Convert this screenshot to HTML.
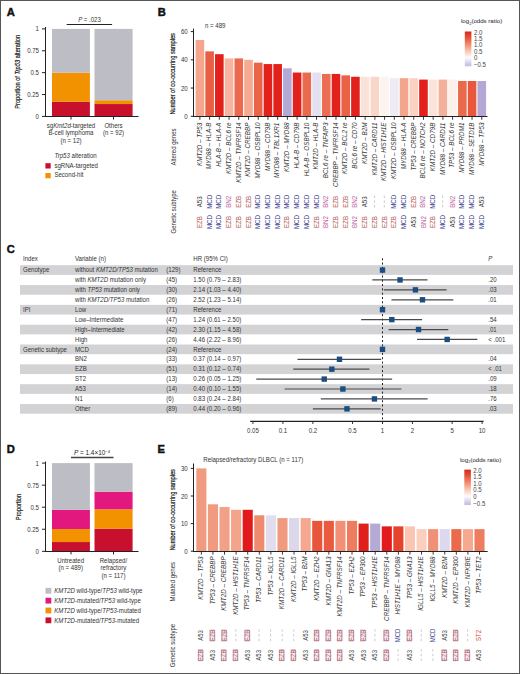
<!DOCTYPE html>
<html><head><meta charset="utf-8"><style>
html,body{margin:0;padding:0;background:#fff;}
svg{display:block;font-family:"Liberation Sans", sans-serif;}
</style></head><body>
<svg width="520" height="674" viewBox="0 0 520 674">
<rect width="520" height="674" fill="#fff"/>
<text x="6.70" y="15.90" font-size="11.2" fill="#111" font-weight="bold" stroke="#111" stroke-width="0.45">A</text>
<line x1="66.70" y1="24.50" x2="112.10" y2="24.50" stroke="#222" stroke-width="1"/>
<text x="89.50" y="21.50" font-size="6.4" fill="#333" text-anchor="middle" textLength="22.71" lengthAdjust="spacingAndGlyphs"><tspan font-style="italic">P</tspan> = .023</text>
<rect x="52.00" y="101.82" width="37.90" height="14.58" fill="#c8102e"/>
<rect x="52.00" y="72.65" width="37.90" height="29.17" fill="#f39200"/>
<rect x="52.00" y="28.90" width="37.90" height="43.75" fill="#bdbdc5"/>
<rect x="94.50" y="104.04" width="38.10" height="12.36" fill="#c8102e"/>
<rect x="94.50" y="100.23" width="38.10" height="3.80" fill="#f39200"/>
<rect x="94.50" y="28.90" width="38.10" height="71.33" fill="#bdbdc5"/>
<line x1="45.50" y1="27.00" x2="45.50" y2="117.00" stroke="#222" stroke-width="1"/>
<line x1="45.00" y1="116.50" x2="138.50" y2="116.50" stroke="#222" stroke-width="1"/>
<line x1="42.00" y1="28.90" x2="45.50" y2="28.90" stroke="#222" stroke-width="1"/>
<text x="39.00" y="31.40" font-size="6.4" fill="#333" text-anchor="end" textLength="3.38" lengthAdjust="spacingAndGlyphs">1</text>
<line x1="42.00" y1="50.78" x2="45.50" y2="50.78" stroke="#222" stroke-width="1"/>
<text x="39.00" y="53.28" font-size="6.4" fill="#333" text-anchor="end" textLength="11.83" lengthAdjust="spacingAndGlyphs">0.75</text>
<line x1="42.00" y1="72.65" x2="45.50" y2="72.65" stroke="#222" stroke-width="1"/>
<text x="39.00" y="75.15" font-size="6.4" fill="#333" text-anchor="end" textLength="8.45" lengthAdjust="spacingAndGlyphs">0.5</text>
<line x1="42.00" y1="94.53" x2="45.50" y2="94.53" stroke="#222" stroke-width="1"/>
<text x="39.00" y="97.03" font-size="6.4" fill="#333" text-anchor="end" textLength="11.83" lengthAdjust="spacingAndGlyphs">0.25</text>
<line x1="42.00" y1="116.40" x2="45.50" y2="116.40" stroke="#222" stroke-width="1"/>
<text x="39.00" y="118.90" font-size="6.4" fill="#333" text-anchor="end" textLength="3.38" lengthAdjust="spacingAndGlyphs">0</text>
<line x1="71.00" y1="116.50" x2="71.00" y2="119.50" stroke="#222" stroke-width="1"/>
<line x1="113.50" y1="116.50" x2="113.50" y2="119.50" stroke="#222" stroke-width="1"/>
<text x="20.50" y="71.80" font-size="6.7" fill="#222" text-anchor="middle" textLength="74" lengthAdjust="spacingAndGlyphs" transform="rotate(-90 20.50 71.80)" stroke="#222" stroke-width="0.2">Proportion of <tspan font-style="italic">Trp53</tspan> alteration</text>
<text x="71.00" y="128.00" font-size="6.4" fill="#333" text-anchor="middle" textLength="48.33" lengthAdjust="spacingAndGlyphs">sg<tspan font-style="italic">Kmt2d</tspan>-targeted</text>
<text x="71.00" y="135.30" font-size="6.4" fill="#333" text-anchor="middle" textLength="44.94" lengthAdjust="spacingAndGlyphs">B-cell lymphoma</text>
<text x="71.00" y="142.60" font-size="6.4" fill="#333" text-anchor="middle" textLength="21.12" lengthAdjust="spacingAndGlyphs">(n = 12)</text>
<text x="113.50" y="128.00" font-size="6.4" fill="#333" text-anchor="middle" textLength="18.25" lengthAdjust="spacingAndGlyphs">Others</text>
<text x="113.50" y="135.30" font-size="6.4" fill="#333" text-anchor="middle" textLength="21.12" lengthAdjust="spacingAndGlyphs">(n = 92)</text>
<text x="54.40" y="158.00" font-size="6.4" fill="#333" textLength="42.36" lengthAdjust="spacingAndGlyphs"><tspan font-style="italic">Trp53</tspan> alteration</text>
<rect x="45.40" y="163.20" width="5.30" height="5.30" fill="#c8102e"/>
<text x="54.40" y="167.60" font-size="6.4" fill="#333" textLength="43.59" lengthAdjust="spacingAndGlyphs">sgRNA-targeted</text>
<rect x="45.40" y="173.00" width="5.30" height="5.30" fill="#f39200"/>
<text x="54.40" y="177.30" font-size="6.4" fill="#333" textLength="29.07" lengthAdjust="spacingAndGlyphs">Second-hit</text>
<text x="157.80" y="16.20" font-size="11.2" fill="#111" font-weight="bold" stroke="#111" stroke-width="0.45">B</text>
<text x="205.00" y="27.50" font-size="6.4" fill="#333" textLength="20.45" lengthAdjust="spacingAndGlyphs">n = 489</text>
<rect x="195.60" y="40.05" width="8.60" height="76.35" fill="#f4a58b"/>
<rect x="205.32" y="51.35" width="8.60" height="65.05" fill="#e95f45"/>
<rect x="215.04" y="54.17" width="8.60" height="62.23" fill="#e3211c"/>
<rect x="224.76" y="58.41" width="8.60" height="57.99" fill="#f7b49f"/>
<rect x="234.48" y="58.41" width="8.60" height="57.99" fill="#eb6a4f"/>
<rect x="244.20" y="59.82" width="8.60" height="56.58" fill="#f6aa91"/>
<rect x="253.92" y="62.64" width="8.60" height="53.76" fill="#ea6448"/>
<rect x="263.64" y="64.06" width="8.60" height="52.34" fill="#e3211c"/>
<rect x="273.36" y="64.06" width="8.60" height="52.34" fill="#e3211c"/>
<rect x="283.08" y="68.29" width="8.60" height="48.11" fill="#b3a8d6"/>
<rect x="292.80" y="72.53" width="8.60" height="43.87" fill="#e3211c"/>
<rect x="302.52" y="72.53" width="8.60" height="43.87" fill="#ea6a4e"/>
<rect x="312.24" y="72.53" width="8.60" height="43.87" fill="#e3e0f1"/>
<rect x="321.96" y="73.94" width="8.60" height="42.46" fill="#eb6d52"/>
<rect x="331.68" y="73.94" width="8.60" height="42.46" fill="#e3211c"/>
<rect x="341.40" y="75.35" width="8.60" height="41.05" fill="#ea6246"/>
<rect x="351.12" y="76.76" width="8.60" height="39.64" fill="#e3211c"/>
<rect x="360.84" y="76.76" width="8.60" height="39.64" fill="#fbe2d8"/>
<rect x="370.56" y="76.76" width="8.60" height="39.64" fill="#f9d6c8"/>
<rect x="380.28" y="76.76" width="8.60" height="39.64" fill="#fdf4f0"/>
<rect x="390.00" y="78.18" width="8.60" height="38.22" fill="#ecebf6"/>
<rect x="399.72" y="78.18" width="8.60" height="38.22" fill="#f4a68c"/>
<rect x="409.44" y="78.18" width="8.60" height="38.22" fill="#fad2c2"/>
<rect x="419.16" y="79.59" width="8.60" height="36.81" fill="#e3211c"/>
<rect x="428.88" y="79.59" width="8.60" height="36.81" fill="#fbe3da"/>
<rect x="438.60" y="79.59" width="8.60" height="36.81" fill="#f3b19b"/>
<rect x="448.32" y="79.59" width="8.60" height="36.81" fill="#fdf0ea"/>
<rect x="458.04" y="81.00" width="8.60" height="35.40" fill="#ea6a4c"/>
<rect x="467.76" y="81.00" width="8.60" height="35.40" fill="#e9573c"/>
<rect x="477.48" y="81.00" width="8.60" height="35.40" fill="#b4a7d5"/>
<line x1="193.50" y1="28.60" x2="193.50" y2="117.00" stroke="#222" stroke-width="1"/>
<line x1="193.00" y1="116.50" x2="487.50" y2="116.50" stroke="#222" stroke-width="1"/>
<line x1="190.80" y1="116.30" x2="193.50" y2="116.30" stroke="#222" stroke-width="1"/>
<text x="187.70" y="118.80" font-size="6.4" fill="#333" text-anchor="end" textLength="3.38" lengthAdjust="spacingAndGlyphs">0</text>
<line x1="190.80" y1="88.06" x2="193.50" y2="88.06" stroke="#222" stroke-width="1"/>
<text x="187.70" y="90.56" font-size="6.4" fill="#333" text-anchor="end" textLength="6.76" lengthAdjust="spacingAndGlyphs">20</text>
<line x1="190.80" y1="59.82" x2="193.50" y2="59.82" stroke="#222" stroke-width="1"/>
<text x="187.70" y="62.32" font-size="6.4" fill="#333" text-anchor="end" textLength="6.76" lengthAdjust="spacingAndGlyphs">40</text>
<line x1="190.80" y1="31.58" x2="193.50" y2="31.58" stroke="#222" stroke-width="1"/>
<text x="187.70" y="34.08" font-size="6.4" fill="#333" text-anchor="end" textLength="6.76" lengthAdjust="spacingAndGlyphs">60</text>
<line x1="199.90" y1="116.40" x2="199.90" y2="119.80" stroke="#222" stroke-width="0.9"/>
<text x="201.67" y="122.60" font-size="6.3" fill="#333" text-anchor="end" font-style="italic" transform="rotate(-90 201.67 122.60)">KMT2D – TP53</text>
<text x="201.94" y="201.80" font-size="6.5" fill="#3a3a3a" text-anchor="middle" textLength="10.99" lengthAdjust="spacingAndGlyphs" transform="rotate(-90 201.94 201.80)">A53</text>
<text x="201.94" y="222.00" font-size="6.5" fill="#b0504a" text-anchor="middle" textLength="12.01" lengthAdjust="spacingAndGlyphs" transform="rotate(-90 201.94 222.00)">EZB</text>
<line x1="209.62" y1="116.40" x2="209.62" y2="119.80" stroke="#222" stroke-width="0.9"/>
<text x="211.39" y="122.60" font-size="6.3" fill="#333" text-anchor="end" font-style="italic" transform="rotate(-90 211.39 122.60)">MYD88 – HLA-B</text>
<text x="211.66" y="201.80" font-size="6.5" fill="#40408c" text-anchor="middle" textLength="14.06" lengthAdjust="spacingAndGlyphs" transform="rotate(-90 211.66 201.80)">MCD</text>
<text x="211.66" y="222.00" font-size="6.5" fill="#40408c" text-anchor="middle" textLength="14.06" lengthAdjust="spacingAndGlyphs" transform="rotate(-90 211.66 222.00)">MCD</text>
<line x1="219.34" y1="116.40" x2="219.34" y2="119.80" stroke="#222" stroke-width="0.9"/>
<text x="221.11" y="122.60" font-size="6.3" fill="#333" text-anchor="end" font-style="italic" transform="rotate(-90 221.11 122.60)">HLA-B – HLA-A</text>
<text x="221.38" y="201.80" font-size="6.5" fill="#40408c" text-anchor="middle" textLength="14.06" lengthAdjust="spacingAndGlyphs" transform="rotate(-90 221.38 201.80)">MCD</text>
<text x="221.38" y="222.00" font-size="6.5" fill="#40408c" text-anchor="middle" textLength="14.06" lengthAdjust="spacingAndGlyphs" transform="rotate(-90 221.38 222.00)">MCD</text>
<line x1="229.06" y1="116.40" x2="229.06" y2="119.80" stroke="#222" stroke-width="0.9"/>
<text x="230.83" y="122.60" font-size="6.3" fill="#333" text-anchor="end" font-style="italic" transform="rotate(-90 230.83 122.60)">KMT2D – BCL6 re</text>
<text x="231.10" y="201.80" font-size="6.5" fill="#bb5a9e" text-anchor="middle" textLength="12.01" lengthAdjust="spacingAndGlyphs" transform="rotate(-90 231.10 201.80)">BN2</text>
<text x="231.10" y="222.00" font-size="6.5" fill="#b0504a" text-anchor="middle" textLength="12.01" lengthAdjust="spacingAndGlyphs" transform="rotate(-90 231.10 222.00)">EZB</text>
<line x1="238.78" y1="116.40" x2="238.78" y2="119.80" stroke="#222" stroke-width="0.9"/>
<text x="240.55" y="122.60" font-size="6.3" fill="#333" text-anchor="end" font-style="italic" transform="rotate(-90 240.55 122.60)">KMT2D – TNFRSF14</text>
<text x="240.82" y="201.80" font-size="6.5" fill="#b0504a" text-anchor="middle" textLength="12.01" lengthAdjust="spacingAndGlyphs" transform="rotate(-90 240.82 201.80)">EZB</text>
<text x="240.82" y="222.00" font-size="6.5" fill="#b0504a" text-anchor="middle" textLength="12.01" lengthAdjust="spacingAndGlyphs" transform="rotate(-90 240.82 222.00)">EZB</text>
<line x1="248.50" y1="116.40" x2="248.50" y2="119.80" stroke="#222" stroke-width="0.9"/>
<text x="250.27" y="122.60" font-size="6.3" fill="#333" text-anchor="end" font-style="italic" transform="rotate(-90 250.27 122.60)">KMT2D – CREBBP</text>
<text x="250.54" y="201.80" font-size="6.5" fill="#b0504a" text-anchor="middle" textLength="12.01" lengthAdjust="spacingAndGlyphs" transform="rotate(-90 250.54 201.80)">EZB</text>
<text x="250.54" y="222.00" font-size="6.5" fill="#b0504a" text-anchor="middle" textLength="12.01" lengthAdjust="spacingAndGlyphs" transform="rotate(-90 250.54 222.00)">EZB</text>
<line x1="258.22" y1="116.40" x2="258.22" y2="119.80" stroke="#222" stroke-width="0.9"/>
<text x="259.99" y="122.60" font-size="6.3" fill="#333" text-anchor="end" font-style="italic" transform="rotate(-90 259.99 122.60)">MYD88 – OSBPL10</text>
<text x="260.26" y="201.80" font-size="6.5" fill="#40408c" text-anchor="middle" textLength="14.06" lengthAdjust="spacingAndGlyphs" transform="rotate(-90 260.26 201.80)">MCD</text>
<text x="260.26" y="222.00" font-size="6.5" fill="#40408c" text-anchor="middle" textLength="14.06" lengthAdjust="spacingAndGlyphs" transform="rotate(-90 260.26 222.00)">MCD</text>
<line x1="267.94" y1="116.40" x2="267.94" y2="119.80" stroke="#222" stroke-width="0.9"/>
<text x="269.71" y="122.60" font-size="6.3" fill="#333" text-anchor="end" font-style="italic" transform="rotate(-90 269.71 122.60)">MYD88 – CD79B</text>
<text x="269.98" y="201.80" font-size="6.5" fill="#40408c" text-anchor="middle" textLength="14.06" lengthAdjust="spacingAndGlyphs" transform="rotate(-90 269.98 201.80)">MCD</text>
<text x="269.98" y="222.00" font-size="6.5" fill="#40408c" text-anchor="middle" textLength="14.06" lengthAdjust="spacingAndGlyphs" transform="rotate(-90 269.98 222.00)">MCD</text>
<line x1="277.66" y1="116.40" x2="277.66" y2="119.80" stroke="#222" stroke-width="0.9"/>
<text x="279.43" y="122.60" font-size="6.3" fill="#333" text-anchor="end" font-style="italic" transform="rotate(-90 279.43 122.60)">MYD88 – TBL1XR1</text>
<text x="279.70" y="201.80" font-size="6.5" fill="#40408c" text-anchor="middle" textLength="14.06" lengthAdjust="spacingAndGlyphs" transform="rotate(-90 279.70 201.80)">MCD</text>
<text x="279.70" y="222.00" font-size="6.5" fill="#40408c" text-anchor="middle" textLength="14.06" lengthAdjust="spacingAndGlyphs" transform="rotate(-90 279.70 222.00)">MCD</text>
<line x1="287.38" y1="116.40" x2="287.38" y2="119.80" stroke="#222" stroke-width="0.9"/>
<text x="289.15" y="122.60" font-size="6.3" fill="#333" text-anchor="end" font-style="italic" transform="rotate(-90 289.15 122.60)">KMT2D – MYD88</text>
<text x="289.42" y="201.80" font-size="6.5" fill="#40408c" text-anchor="middle" textLength="14.06" lengthAdjust="spacingAndGlyphs" transform="rotate(-90 289.42 201.80)">MCD</text>
<text x="289.42" y="222.00" font-size="6.5" fill="#b0504a" text-anchor="middle" textLength="12.01" lengthAdjust="spacingAndGlyphs" transform="rotate(-90 289.42 222.00)">EZB</text>
<line x1="297.10" y1="116.40" x2="297.10" y2="119.80" stroke="#222" stroke-width="0.9"/>
<text x="298.87" y="122.60" font-size="6.3" fill="#333" text-anchor="end" font-style="italic" transform="rotate(-90 298.87 122.60)">HLA-B – CD79B</text>
<text x="299.14" y="201.80" font-size="6.5" fill="#40408c" text-anchor="middle" textLength="14.06" lengthAdjust="spacingAndGlyphs" transform="rotate(-90 299.14 201.80)">MCD</text>
<text x="299.14" y="222.00" font-size="6.5" fill="#40408c" text-anchor="middle" textLength="14.06" lengthAdjust="spacingAndGlyphs" transform="rotate(-90 299.14 222.00)">MCD</text>
<line x1="306.82" y1="116.40" x2="306.82" y2="119.80" stroke="#222" stroke-width="0.9"/>
<text x="308.59" y="122.60" font-size="6.3" fill="#333" text-anchor="end" font-style="italic" transform="rotate(-90 308.59 122.60)">HLA-B – OSBPL10</text>
<text x="308.86" y="201.80" font-size="6.5" fill="#40408c" text-anchor="middle" textLength="14.06" lengthAdjust="spacingAndGlyphs" transform="rotate(-90 308.86 201.80)">MCD</text>
<text x="308.86" y="222.00" font-size="6.5" fill="#40408c" text-anchor="middle" textLength="14.06" lengthAdjust="spacingAndGlyphs" transform="rotate(-90 308.86 222.00)">MCD</text>
<line x1="316.54" y1="116.40" x2="316.54" y2="119.80" stroke="#222" stroke-width="0.9"/>
<text x="318.31" y="122.60" font-size="6.3" fill="#333" text-anchor="end" font-style="italic" transform="rotate(-90 318.31 122.60)">KMT2D – HLA-B</text>
<text x="318.58" y="201.80" font-size="6.5" fill="#40408c" text-anchor="middle" textLength="14.06" lengthAdjust="spacingAndGlyphs" transform="rotate(-90 318.58 201.80)">MCD</text>
<text x="318.58" y="222.00" font-size="6.5" fill="#b0504a" text-anchor="middle" textLength="12.01" lengthAdjust="spacingAndGlyphs" transform="rotate(-90 318.58 222.00)">EZB</text>
<line x1="326.26" y1="116.40" x2="326.26" y2="119.80" stroke="#222" stroke-width="0.9"/>
<text x="328.03" y="122.60" font-size="6.3" fill="#333" text-anchor="end" font-style="italic" transform="rotate(-90 328.03 122.60)">BCL6 re – TNFAIP3</text>
<text x="328.30" y="201.80" font-size="6.5" fill="#bb5a9e" text-anchor="middle" textLength="12.01" lengthAdjust="spacingAndGlyphs" transform="rotate(-90 328.30 201.80)">BN2</text>
<text x="328.30" y="222.00" font-size="6.5" fill="#bb5a9e" text-anchor="middle" textLength="12.01" lengthAdjust="spacingAndGlyphs" transform="rotate(-90 328.30 222.00)">BN2</text>
<line x1="335.98" y1="116.40" x2="335.98" y2="119.80" stroke="#222" stroke-width="0.9"/>
<text x="337.75" y="122.60" font-size="6.3" fill="#333" text-anchor="end" font-style="italic" transform="rotate(-90 337.75 122.60)">CREBBP – TNFRSF14</text>
<text x="338.02" y="201.80" font-size="6.5" fill="#b0504a" text-anchor="middle" textLength="12.01" lengthAdjust="spacingAndGlyphs" transform="rotate(-90 338.02 201.80)">EZB</text>
<text x="338.02" y="222.00" font-size="6.5" fill="#b0504a" text-anchor="middle" textLength="12.01" lengthAdjust="spacingAndGlyphs" transform="rotate(-90 338.02 222.00)">EZB</text>
<line x1="345.70" y1="116.40" x2="345.70" y2="119.80" stroke="#222" stroke-width="0.9"/>
<text x="347.47" y="122.60" font-size="6.3" fill="#333" text-anchor="end" font-style="italic" transform="rotate(-90 347.47 122.60)">KMT2D – BCL2 re</text>
<text x="347.74" y="201.80" font-size="6.5" fill="#b0504a" text-anchor="middle" textLength="12.01" lengthAdjust="spacingAndGlyphs" transform="rotate(-90 347.74 201.80)">EZB</text>
<text x="347.74" y="222.00" font-size="6.5" fill="#b0504a" text-anchor="middle" textLength="12.01" lengthAdjust="spacingAndGlyphs" transform="rotate(-90 347.74 222.00)">EZB</text>
<line x1="355.42" y1="116.40" x2="355.42" y2="119.80" stroke="#222" stroke-width="0.9"/>
<text x="357.19" y="122.60" font-size="6.3" fill="#333" text-anchor="end" font-style="italic" transform="rotate(-90 357.19 122.60)">BCL6 re – CD70</text>
<text x="357.46" y="201.80" font-size="6.5" fill="#bb5a9e" text-anchor="middle" textLength="12.01" lengthAdjust="spacingAndGlyphs" transform="rotate(-90 357.46 201.80)">BN2</text>
<text x="357.46" y="222.00" font-size="6.5" fill="#bb5a9e" text-anchor="middle" textLength="12.01" lengthAdjust="spacingAndGlyphs" transform="rotate(-90 357.46 222.00)">BN2</text>
<line x1="365.14" y1="116.40" x2="365.14" y2="119.80" stroke="#222" stroke-width="0.9"/>
<text x="366.91" y="122.60" font-size="6.3" fill="#333" text-anchor="end" font-style="italic" transform="rotate(-90 366.91 122.60)">KMT2D – B2M</text>
<text x="367.18" y="201.80" font-size="6.5" fill="#3a3a3a" text-anchor="middle" textLength="10.99" lengthAdjust="spacingAndGlyphs" transform="rotate(-90 367.18 201.80)">A53</text>
<text x="367.18" y="222.00" font-size="6.5" fill="#b0504a" text-anchor="middle" textLength="12.01" lengthAdjust="spacingAndGlyphs" transform="rotate(-90 367.18 222.00)">EZB</text>
<line x1="374.86" y1="116.40" x2="374.86" y2="119.80" stroke="#222" stroke-width="0.9"/>
<text x="376.63" y="122.60" font-size="6.3" fill="#333" text-anchor="end" font-style="italic" transform="rotate(-90 376.63 122.60)">KMT2D – CARD11</text>
<line x1="374.56" y1="195.60" x2="374.56" y2="208.00" stroke="#bdbdbd" stroke-width="0.8" stroke-dasharray="2.4 2.3"/>
<text x="376.90" y="222.00" font-size="6.5" fill="#b0504a" text-anchor="middle" textLength="12.01" lengthAdjust="spacingAndGlyphs" transform="rotate(-90 376.90 222.00)">EZB</text>
<line x1="384.58" y1="116.40" x2="384.58" y2="119.80" stroke="#222" stroke-width="0.9"/>
<text x="386.35" y="122.60" font-size="6.3" fill="#333" text-anchor="end" font-style="italic" transform="rotate(-90 386.35 122.60)">KMT2D – HIST1H1E</text>
<line x1="384.28" y1="195.60" x2="384.28" y2="208.00" stroke="#bdbdbd" stroke-width="0.8" stroke-dasharray="2.4 2.3"/>
<text x="386.62" y="222.00" font-size="6.5" fill="#b0504a" text-anchor="middle" textLength="12.01" lengthAdjust="spacingAndGlyphs" transform="rotate(-90 386.62 222.00)">EZB</text>
<line x1="394.30" y1="116.40" x2="394.30" y2="119.80" stroke="#222" stroke-width="0.9"/>
<text x="396.07" y="122.60" font-size="6.3" fill="#333" text-anchor="end" font-style="italic" transform="rotate(-90 396.07 122.60)">KMT2D – OSBPL10</text>
<text x="396.34" y="201.80" font-size="6.5" fill="#40408c" text-anchor="middle" textLength="14.06" lengthAdjust="spacingAndGlyphs" transform="rotate(-90 396.34 201.80)">MCD</text>
<text x="396.34" y="222.00" font-size="6.5" fill="#b0504a" text-anchor="middle" textLength="12.01" lengthAdjust="spacingAndGlyphs" transform="rotate(-90 396.34 222.00)">EZB</text>
<line x1="404.02" y1="116.40" x2="404.02" y2="119.80" stroke="#222" stroke-width="0.9"/>
<text x="405.79" y="122.60" font-size="6.3" fill="#333" text-anchor="end" font-style="italic" transform="rotate(-90 405.79 122.60)">MYD88 – HLA-A</text>
<text x="406.06" y="201.80" font-size="6.5" fill="#40408c" text-anchor="middle" textLength="14.06" lengthAdjust="spacingAndGlyphs" transform="rotate(-90 406.06 201.80)">MCD</text>
<text x="406.06" y="222.00" font-size="6.5" fill="#40408c" text-anchor="middle" textLength="14.06" lengthAdjust="spacingAndGlyphs" transform="rotate(-90 406.06 222.00)">MCD</text>
<line x1="413.74" y1="116.40" x2="413.74" y2="119.80" stroke="#222" stroke-width="0.9"/>
<text x="415.51" y="122.60" font-size="6.3" fill="#333" text-anchor="end" font-style="italic" transform="rotate(-90 415.51 122.60)">TP53 – CREBBP</text>
<text x="415.78" y="201.80" font-size="6.5" fill="#b0504a" text-anchor="middle" textLength="12.01" lengthAdjust="spacingAndGlyphs" transform="rotate(-90 415.78 201.80)">EZB</text>
<text x="415.78" y="222.00" font-size="6.5" fill="#3a3a3a" text-anchor="middle" textLength="10.99" lengthAdjust="spacingAndGlyphs" transform="rotate(-90 415.78 222.00)">A53</text>
<line x1="423.46" y1="116.40" x2="423.46" y2="119.80" stroke="#222" stroke-width="0.9"/>
<text x="425.23" y="122.60" font-size="6.3" fill="#333" text-anchor="end" font-style="italic" transform="rotate(-90 425.23 122.60)">BCL6 re – NOTCH2</text>
<text x="425.50" y="201.80" font-size="6.5" fill="#bb5a9e" text-anchor="middle" textLength="12.01" lengthAdjust="spacingAndGlyphs" transform="rotate(-90 425.50 201.80)">BN2</text>
<text x="425.50" y="222.00" font-size="6.5" fill="#bb5a9e" text-anchor="middle" textLength="12.01" lengthAdjust="spacingAndGlyphs" transform="rotate(-90 425.50 222.00)">BN2</text>
<line x1="433.18" y1="116.40" x2="433.18" y2="119.80" stroke="#222" stroke-width="0.9"/>
<text x="434.95" y="122.60" font-size="6.3" fill="#333" text-anchor="end" font-style="italic" transform="rotate(-90 434.95 122.60)">KMT2D – CD79B</text>
<text x="435.22" y="201.80" font-size="6.5" fill="#40408c" text-anchor="middle" textLength="14.06" lengthAdjust="spacingAndGlyphs" transform="rotate(-90 435.22 201.80)">MCD</text>
<text x="435.22" y="222.00" font-size="6.5" fill="#b0504a" text-anchor="middle" textLength="12.01" lengthAdjust="spacingAndGlyphs" transform="rotate(-90 435.22 222.00)">EZB</text>
<line x1="442.90" y1="116.40" x2="442.90" y2="119.80" stroke="#222" stroke-width="0.9"/>
<text x="444.67" y="122.60" font-size="6.3" fill="#333" text-anchor="end" font-style="italic" transform="rotate(-90 444.67 122.60)">MYD88 – CARD11</text>
<line x1="442.60" y1="195.60" x2="442.60" y2="208.00" stroke="#bdbdbd" stroke-width="0.8" stroke-dasharray="2.4 2.3"/>
<text x="444.94" y="222.00" font-size="6.5" fill="#40408c" text-anchor="middle" textLength="14.06" lengthAdjust="spacingAndGlyphs" transform="rotate(-90 444.94 222.00)">MCD</text>
<line x1="452.62" y1="116.40" x2="452.62" y2="119.80" stroke="#222" stroke-width="0.9"/>
<text x="454.39" y="122.60" font-size="6.3" fill="#333" text-anchor="end" font-style="italic" transform="rotate(-90 454.39 122.60)">TP53 – BCL6 re</text>
<text x="454.66" y="201.80" font-size="6.5" fill="#bb5a9e" text-anchor="middle" textLength="12.01" lengthAdjust="spacingAndGlyphs" transform="rotate(-90 454.66 201.80)">BN2</text>
<text x="454.66" y="222.00" font-size="6.5" fill="#3a3a3a" text-anchor="middle" textLength="10.99" lengthAdjust="spacingAndGlyphs" transform="rotate(-90 454.66 222.00)">A53</text>
<line x1="462.34" y1="116.40" x2="462.34" y2="119.80" stroke="#222" stroke-width="0.9"/>
<text x="464.11" y="122.60" font-size="6.3" fill="#333" text-anchor="end" font-style="italic" transform="rotate(-90 464.11 122.60)">MYD88 – PRDM1</text>
<text x="464.38" y="201.80" font-size="6.5" fill="#40408c" text-anchor="middle" textLength="14.06" lengthAdjust="spacingAndGlyphs" transform="rotate(-90 464.38 201.80)">MCD</text>
<text x="464.38" y="222.00" font-size="6.5" fill="#40408c" text-anchor="middle" textLength="14.06" lengthAdjust="spacingAndGlyphs" transform="rotate(-90 464.38 222.00)">MCD</text>
<line x1="472.06" y1="116.40" x2="472.06" y2="119.80" stroke="#222" stroke-width="0.9"/>
<text x="473.83" y="122.60" font-size="6.3" fill="#333" text-anchor="end" font-style="italic" transform="rotate(-90 473.83 122.60)">MYD88 – SETD1B</text>
<text x="474.10" y="201.80" font-size="6.5" fill="#40408c" text-anchor="middle" textLength="14.06" lengthAdjust="spacingAndGlyphs" transform="rotate(-90 474.10 201.80)">MCD</text>
<text x="474.10" y="222.00" font-size="6.5" fill="#40408c" text-anchor="middle" textLength="14.06" lengthAdjust="spacingAndGlyphs" transform="rotate(-90 474.10 222.00)">MCD</text>
<line x1="481.78" y1="116.40" x2="481.78" y2="119.80" stroke="#222" stroke-width="0.9"/>
<text x="483.55" y="122.60" font-size="6.3" fill="#333" text-anchor="end" font-style="italic" transform="rotate(-90 483.55 122.60)">MYD88 – TP53</text>
<text x="483.82" y="201.80" font-size="6.5" fill="#3a3a3a" text-anchor="middle" textLength="10.99" lengthAdjust="spacingAndGlyphs" transform="rotate(-90 483.82 201.80)">A53</text>
<text x="483.82" y="222.00" font-size="6.5" fill="#40408c" text-anchor="middle" textLength="14.06" lengthAdjust="spacingAndGlyphs" transform="rotate(-90 483.82 222.00)">MCD</text>
<text x="176.40" y="147.00" font-size="6.3" fill="#333" text-anchor="middle" textLength="36.93" lengthAdjust="spacingAndGlyphs" transform="rotate(-90 176.40 147.00)">Altered genes</text>
<text x="176.40" y="211.80" font-size="6.3" fill="#333" text-anchor="middle" textLength="43.25" lengthAdjust="spacingAndGlyphs" transform="rotate(-90 176.40 211.80)">Genetic subtype</text>
<text x="174.80" y="73.80" font-size="6.7" fill="#222" text-anchor="middle" textLength="81.5" lengthAdjust="spacingAndGlyphs" transform="rotate(-90 174.80 73.80)" stroke="#222" stroke-width="0.2">Number of co-occurring samples</text>
<defs><linearGradient id="gB" x1="0" y1="0" x2="0" y2="1"><stop offset="0" stop-color="#d42a1c"/><stop offset="0.17" stop-color="#e4503a"/><stop offset="0.37" stop-color="#f08c70"/><stop offset="0.56" stop-color="#f9c6b2"/><stop offset="0.75" stop-color="#fdfbfc"/><stop offset="0.94" stop-color="#cdc6e6"/><stop offset="1" stop-color="#c4bce0"/></linearGradient></defs>
<rect x="464.80" y="31.50" width="6.60" height="34.80" fill="url(#gB)"/>
<text x="474.00" y="34.50" font-size="6.4" fill="#444" textLength="8.45" lengthAdjust="spacingAndGlyphs">2.0</text>
<text x="474.00" y="40.95" font-size="6.4" fill="#444" textLength="8.45" lengthAdjust="spacingAndGlyphs">1.5</text>
<text x="474.00" y="47.40" font-size="6.4" fill="#444" textLength="8.45" lengthAdjust="spacingAndGlyphs">1.0</text>
<text x="474.00" y="53.85" font-size="6.4" fill="#444" textLength="8.45" lengthAdjust="spacingAndGlyphs">0.5</text>
<text x="474.00" y="60.30" font-size="6.4" fill="#444" textLength="3.38" lengthAdjust="spacingAndGlyphs">0</text>
<text x="474.00" y="66.75" font-size="6.4" fill="#444" textLength="12.0" lengthAdjust="spacingAndGlyphs">−0.5</text>
<text x="461.00" y="23.00" font-size="6.1" fill="#222">log<tspan font-size="4" dy="1.5">2</tspan><tspan dy="-1.5">(odds ratio)</tspan></text>
<text x="6.70" y="252.60" font-size="11.2" fill="#111" font-weight="bold" stroke="#111" stroke-width="0.45">C</text>
<rect x="20.00" y="265.20" width="493.00" height="9.70" fill="#d3d3d6"/>
<rect x="20.00" y="285.03" width="493.00" height="9.70" fill="#d3d3d6"/>
<rect x="20.00" y="304.86" width="493.00" height="9.70" fill="#d3d3d6"/>
<rect x="20.00" y="324.68" width="493.00" height="9.70" fill="#d3d3d6"/>
<rect x="20.00" y="344.51" width="493.00" height="9.70" fill="#d3d3d6"/>
<rect x="20.00" y="364.34" width="493.00" height="9.70" fill="#d3d3d6"/>
<rect x="20.00" y="384.17" width="493.00" height="9.70" fill="#d3d3d6"/>
<rect x="20.00" y="404.00" width="493.00" height="9.70" fill="#d3d3d6"/>
<text x="23.00" y="261.10" font-size="6.4" fill="#333" textLength="14.87" lengthAdjust="spacingAndGlyphs">Index</text>
<text x="75.00" y="261.10" font-size="6.4" fill="#333" textLength="30.98" lengthAdjust="spacingAndGlyphs">Variable (n)</text>
<text x="193.30" y="261.10" font-size="6.4" fill="#333" textLength="34.46" lengthAdjust="spacingAndGlyphs">HR (95% CI)</text>
<text x="488.30" y="261.10" font-size="6.4" fill="#333" font-style="italic" textLength="4.06" lengthAdjust="spacingAndGlyphs">P</text>
<line x1="382.50" y1="258.30" x2="382.50" y2="424.00" stroke="#222" stroke-width="1" stroke-dasharray="2 2.3"/>
<text x="23.00" y="272.25" font-size="6.4" fill="#333" textLength="26.37" lengthAdjust="spacingAndGlyphs">Genotype</text>
<text x="75.00" y="272.25" font-size="6.4" fill="#333" textLength="82.79" lengthAdjust="spacingAndGlyphs">without <tspan font-style="italic">KMT2D/TP53</tspan> mutation</text>
<text x="166.30" y="272.25" font-size="6.4" fill="#333" textLength="14.19" lengthAdjust="spacingAndGlyphs">(129)</text>
<text x="193.30" y="272.25" font-size="6.4" fill="#333" textLength="28.05" lengthAdjust="spacingAndGlyphs">Reference</text>
<rect x="379.80" y="267.35" width="5.40" height="5.40" fill="#1b4d82"/>
<text x="75.00" y="282.16" font-size="6.4" fill="#333" textLength="70.96" lengthAdjust="spacingAndGlyphs">with <tspan font-style="italic">KMT2D</tspan> mutation only</text>
<text x="166.30" y="282.16" font-size="6.4" fill="#333" textLength="10.81" lengthAdjust="spacingAndGlyphs">(45)</text>
<text x="193.30" y="282.16" font-size="6.4" fill="#333" textLength="48.0" lengthAdjust="spacingAndGlyphs">1.50 (0.79 – 2.83)</text>
<text x="488.30" y="282.16" font-size="6.4" fill="#333" textLength="8.45" lengthAdjust="spacingAndGlyphs">.20</text>
<line x1="372.30" y1="279.96" x2="427.50" y2="279.96" stroke="#4a4a4a" stroke-width="1.2"/>
<rect x="397.34" y="277.26" width="5.40" height="5.40" fill="#1b4d82"/>
<text x="75.00" y="292.08" font-size="6.4" fill="#333" textLength="64.78" lengthAdjust="spacingAndGlyphs">with <tspan font-style="italic">TP53</tspan> mutation only</text>
<text x="166.30" y="292.08" font-size="6.4" fill="#333" textLength="10.81" lengthAdjust="spacingAndGlyphs">(30)</text>
<text x="193.30" y="292.08" font-size="6.4" fill="#333" textLength="48.0" lengthAdjust="spacingAndGlyphs">2.14 (1.03 – 4.40)</text>
<text x="488.30" y="292.08" font-size="6.4" fill="#333" textLength="8.45" lengthAdjust="spacingAndGlyphs">.03</text>
<line x1="383.78" y1="289.88" x2="446.59" y2="289.88" stroke="#4a4a4a" stroke-width="1.2"/>
<rect x="412.71" y="287.18" width="5.40" height="5.40" fill="#1b4d82"/>
<text x="75.00" y="301.99" font-size="6.4" fill="#333" textLength="74.34" lengthAdjust="spacingAndGlyphs">with <tspan font-style="italic">KMT2D/TP53</tspan> mutation</text>
<text x="166.30" y="301.99" font-size="6.4" fill="#333" textLength="10.81" lengthAdjust="spacingAndGlyphs">(26)</text>
<text x="193.30" y="301.99" font-size="6.4" fill="#333" textLength="48.0" lengthAdjust="spacingAndGlyphs">2.52 (1.23 – 5.14)</text>
<text x="488.30" y="301.99" font-size="6.4" fill="#333" textLength="8.45" lengthAdjust="spacingAndGlyphs">.01</text>
<line x1="391.45" y1="299.79" x2="453.31" y2="299.79" stroke="#4a4a4a" stroke-width="1.2"/>
<rect x="419.78" y="297.09" width="5.40" height="5.40" fill="#1b4d82"/>
<text x="23.00" y="311.91" font-size="6.4" fill="#333" textLength="7.43" lengthAdjust="spacingAndGlyphs">IPI</text>
<text x="75.00" y="311.91" font-size="6.4" fill="#333" textLength="11.15" lengthAdjust="spacingAndGlyphs">Low</text>
<text x="166.30" y="311.91" font-size="6.4" fill="#333" textLength="10.81" lengthAdjust="spacingAndGlyphs">(71)</text>
<text x="193.30" y="311.91" font-size="6.4" fill="#333" textLength="28.05" lengthAdjust="spacingAndGlyphs">Reference</text>
<rect x="379.80" y="307.01" width="5.40" height="5.40" fill="#1b4d82"/>
<text x="75.00" y="321.82" font-size="6.4" fill="#333" textLength="48.33" lengthAdjust="spacingAndGlyphs">Low–Intermediate</text>
<text x="166.30" y="321.82" font-size="6.4" fill="#333" textLength="10.81" lengthAdjust="spacingAndGlyphs">(47)</text>
<text x="193.30" y="321.82" font-size="6.4" fill="#333" textLength="48.0" lengthAdjust="spacingAndGlyphs">1.24 (0.61 – 2.50)</text>
<text x="488.30" y="321.82" font-size="6.4" fill="#333" textLength="8.45" lengthAdjust="spacingAndGlyphs">.54</text>
<line x1="361.12" y1="319.62" x2="422.13" y2="319.62" stroke="#4a4a4a" stroke-width="1.2"/>
<rect x="389.10" y="316.92" width="5.40" height="5.40" fill="#1b4d82"/>
<text x="75.00" y="331.73" font-size="6.4" fill="#333" textLength="49.68" lengthAdjust="spacingAndGlyphs">High–Intermediate</text>
<text x="166.30" y="331.73" font-size="6.4" fill="#333" textLength="10.81" lengthAdjust="spacingAndGlyphs">(42)</text>
<text x="193.30" y="331.73" font-size="6.4" fill="#333" textLength="48.0" lengthAdjust="spacingAndGlyphs">2.30 (1.15 – 4.58)</text>
<text x="488.30" y="331.73" font-size="6.4" fill="#333" textLength="8.45" lengthAdjust="spacingAndGlyphs">.01</text>
<line x1="388.55" y1="329.53" x2="448.32" y2="329.53" stroke="#4a4a4a" stroke-width="1.2"/>
<rect x="415.83" y="326.83" width="5.40" height="5.40" fill="#1b4d82"/>
<text x="75.00" y="341.65" font-size="6.4" fill="#333" textLength="12.5" lengthAdjust="spacingAndGlyphs">High</text>
<text x="166.30" y="341.65" font-size="6.4" fill="#333" textLength="10.81" lengthAdjust="spacingAndGlyphs">(26)</text>
<text x="193.30" y="341.65" font-size="6.4" fill="#333" textLength="48.0" lengthAdjust="spacingAndGlyphs">4.46 (2.22 – 8.96)</text>
<text x="488.30" y="341.65" font-size="6.4" fill="#333" textLength="17.07" lengthAdjust="spacingAndGlyphs">&lt; .001</text>
<line x1="417.00" y1="339.45" x2="477.35" y2="339.45" stroke="#4a4a4a" stroke-width="1.2"/>
<rect x="444.47" y="336.75" width="5.40" height="5.40" fill="#1b4d82"/>
<text x="23.00" y="351.56" font-size="6.4" fill="#333" textLength="43.94" lengthAdjust="spacingAndGlyphs">Genetic subtype</text>
<text x="75.00" y="351.56" font-size="6.4" fill="#333" textLength="13.85" lengthAdjust="spacingAndGlyphs">MCD</text>
<text x="166.30" y="351.56" font-size="6.4" fill="#333" textLength="10.81" lengthAdjust="spacingAndGlyphs">(24)</text>
<text x="193.30" y="351.56" font-size="6.4" fill="#333" textLength="28.05" lengthAdjust="spacingAndGlyphs">Reference</text>
<rect x="379.80" y="346.66" width="5.40" height="5.40" fill="#1b4d82"/>
<text x="75.00" y="361.48" font-size="6.4" fill="#333" textLength="11.83" lengthAdjust="spacingAndGlyphs">BN2</text>
<text x="166.30" y="361.48" font-size="6.4" fill="#333" textLength="10.81" lengthAdjust="spacingAndGlyphs">(33)</text>
<text x="193.30" y="361.48" font-size="6.4" fill="#333" textLength="48.0" lengthAdjust="spacingAndGlyphs">0.37 (0.14 – 0.97)</text>
<text x="488.30" y="361.48" font-size="6.4" fill="#333" textLength="8.45" lengthAdjust="spacingAndGlyphs">.04</text>
<line x1="297.45" y1="359.28" x2="381.18" y2="359.28" stroke="#4a4a4a" stroke-width="1.2"/>
<rect x="336.79" y="356.58" width="5.40" height="5.40" fill="#1b4d82"/>
<text x="75.00" y="371.39" font-size="6.4" fill="#333" textLength="11.83" lengthAdjust="spacingAndGlyphs">EZB</text>
<text x="166.30" y="371.39" font-size="6.4" fill="#333" textLength="10.81" lengthAdjust="spacingAndGlyphs">(51)</text>
<text x="193.30" y="371.39" font-size="6.4" fill="#333" textLength="48.0" lengthAdjust="spacingAndGlyphs">0.31 (0.12 – 0.74)</text>
<text x="488.30" y="371.39" font-size="6.4" fill="#333" textLength="13.69" lengthAdjust="spacingAndGlyphs">&lt; .01</text>
<line x1="293.24" y1="369.19" x2="369.48" y2="369.19" stroke="#4a4a4a" stroke-width="1.2"/>
<rect x="329.14" y="366.49" width="5.40" height="5.40" fill="#1b4d82"/>
<text x="75.00" y="381.30" font-size="6.4" fill="#333" textLength="11.15" lengthAdjust="spacingAndGlyphs">ST2</text>
<text x="166.30" y="381.30" font-size="6.4" fill="#333" textLength="10.81" lengthAdjust="spacingAndGlyphs">(13)</text>
<text x="193.30" y="381.30" font-size="6.4" fill="#333" textLength="48.0" lengthAdjust="spacingAndGlyphs">0.26 (0.05 – 1.25)</text>
<text x="488.30" y="381.30" font-size="6.4" fill="#333" textLength="8.45" lengthAdjust="spacingAndGlyphs">.09</text>
<line x1="256.25" y1="379.10" x2="392.15" y2="379.10" stroke="#4a4a4a" stroke-width="1.2"/>
<rect x="321.53" y="376.40" width="5.40" height="5.40" fill="#1b4d82"/>
<text x="75.00" y="391.22" font-size="6.4" fill="#333" textLength="10.82" lengthAdjust="spacingAndGlyphs">A53</text>
<text x="166.30" y="391.22" font-size="6.4" fill="#333" textLength="10.81" lengthAdjust="spacingAndGlyphs">(14)</text>
<text x="193.30" y="391.22" font-size="6.4" fill="#333" textLength="48.0" lengthAdjust="spacingAndGlyphs">0.40 (0.10 – 1.55)</text>
<text x="488.30" y="391.22" font-size="6.4" fill="#333" textLength="8.45" lengthAdjust="spacingAndGlyphs">.18</text>
<line x1="284.60" y1="389.02" x2="401.46" y2="389.02" stroke="#4a4a4a" stroke-width="1.2"/>
<rect x="340.17" y="386.32" width="5.40" height="5.40" fill="#1b4d82"/>
<text x="75.00" y="401.13" font-size="6.4" fill="#333" textLength="7.77" lengthAdjust="spacingAndGlyphs">N1</text>
<text x="166.30" y="401.13" font-size="6.4" fill="#333" textLength="7.43" lengthAdjust="spacingAndGlyphs">(6)</text>
<text x="193.30" y="401.13" font-size="6.4" fill="#333" textLength="48.0" lengthAdjust="spacingAndGlyphs">0.83 (0.24 – 2.84)</text>
<text x="488.30" y="401.13" font-size="6.4" fill="#333" textLength="8.45" lengthAdjust="spacingAndGlyphs">.76</text>
<line x1="320.77" y1="398.93" x2="427.65" y2="398.93" stroke="#4a4a4a" stroke-width="1.2"/>
<rect x="371.74" y="396.23" width="5.40" height="5.40" fill="#1b4d82"/>
<text x="75.00" y="411.05" font-size="6.4" fill="#333" textLength="15.21" lengthAdjust="spacingAndGlyphs">Other</text>
<text x="166.30" y="411.05" font-size="6.4" fill="#333" textLength="10.81" lengthAdjust="spacingAndGlyphs">(89)</text>
<text x="193.30" y="411.05" font-size="6.4" fill="#333" textLength="48.0" lengthAdjust="spacingAndGlyphs">0.44 (0.20 – 0.96)</text>
<text x="488.30" y="411.05" font-size="6.4" fill="#333" textLength="8.45" lengthAdjust="spacingAndGlyphs">.03</text>
<line x1="312.88" y1="408.85" x2="380.73" y2="408.85" stroke="#4a4a4a" stroke-width="1.2"/>
<rect x="344.29" y="406.15" width="5.40" height="5.40" fill="#1b4d82"/>
<line x1="250.20" y1="421.40" x2="483.60" y2="421.40" stroke="#222" stroke-width="1.1"/>
<line x1="252.92" y1="421.40" x2="252.92" y2="424.00" stroke="#222" stroke-width="0.9"/>
<text x="252.92" y="433.00" font-size="6.4" fill="#333" text-anchor="middle" textLength="11.83" lengthAdjust="spacingAndGlyphs">0.05</text>
<line x1="282.90" y1="421.40" x2="282.90" y2="424.00" stroke="#222" stroke-width="0.9"/>
<text x="282.90" y="433.00" font-size="6.4" fill="#333" text-anchor="middle" textLength="8.45" lengthAdjust="spacingAndGlyphs">0.1</text>
<line x1="312.88" y1="421.40" x2="312.88" y2="424.00" stroke="#222" stroke-width="0.9"/>
<text x="312.88" y="433.00" font-size="6.4" fill="#333" text-anchor="middle" textLength="8.45" lengthAdjust="spacingAndGlyphs">0.2</text>
<line x1="352.52" y1="421.40" x2="352.52" y2="424.00" stroke="#222" stroke-width="0.9"/>
<text x="352.52" y="433.00" font-size="6.4" fill="#333" text-anchor="middle" textLength="8.45" lengthAdjust="spacingAndGlyphs">0.5</text>
<line x1="382.50" y1="421.40" x2="382.50" y2="424.00" stroke="#222" stroke-width="0.9"/>
<text x="382.50" y="433.00" font-size="6.4" fill="#333" text-anchor="middle" textLength="3.38" lengthAdjust="spacingAndGlyphs">1</text>
<line x1="412.48" y1="421.40" x2="412.48" y2="424.00" stroke="#222" stroke-width="0.9"/>
<text x="412.48" y="433.00" font-size="6.4" fill="#333" text-anchor="middle" textLength="3.38" lengthAdjust="spacingAndGlyphs">2</text>
<line x1="452.12" y1="421.40" x2="452.12" y2="424.00" stroke="#222" stroke-width="0.9"/>
<text x="452.12" y="433.00" font-size="6.4" fill="#333" text-anchor="middle" textLength="3.38" lengthAdjust="spacingAndGlyphs">5</text>
<line x1="482.10" y1="421.40" x2="482.10" y2="424.00" stroke="#222" stroke-width="0.9"/>
<text x="482.10" y="433.00" font-size="6.4" fill="#333" text-anchor="middle" textLength="6.76" lengthAdjust="spacingAndGlyphs">10</text>
<text x="6.70" y="452.80" font-size="11.2" fill="#111" font-weight="bold" stroke="#111" stroke-width="0.45">D</text>
<rect x="52.00" y="542.04" width="37.90" height="9.26" fill="#c8102e"/>
<rect x="52.00" y="528.99" width="37.90" height="13.05" fill="#f39200"/>
<rect x="52.00" y="509.85" width="37.90" height="19.14" fill="#e2187f"/>
<rect x="52.00" y="463.10" width="37.90" height="46.75" fill="#bdbdc5"/>
<rect x="94.50" y="528.72" width="38.10" height="22.58" fill="#c8102e"/>
<rect x="94.50" y="509.23" width="38.10" height="19.49" fill="#f39200"/>
<rect x="94.50" y="491.68" width="38.10" height="17.55" fill="#e2187f"/>
<rect x="94.50" y="463.10" width="38.10" height="28.58" fill="#bdbdc5"/>
<line x1="45.50" y1="461.50" x2="45.50" y2="552.00" stroke="#222" stroke-width="1"/>
<line x1="45.00" y1="551.50" x2="138.50" y2="551.50" stroke="#222" stroke-width="1"/>
<line x1="42.00" y1="463.10" x2="45.50" y2="463.10" stroke="#222" stroke-width="1"/>
<text x="39.00" y="465.60" font-size="6.4" fill="#333" text-anchor="end" textLength="3.38" lengthAdjust="spacingAndGlyphs">1</text>
<line x1="42.00" y1="485.15" x2="45.50" y2="485.15" stroke="#222" stroke-width="1"/>
<text x="39.00" y="487.65" font-size="6.4" fill="#333" text-anchor="end" textLength="11.83" lengthAdjust="spacingAndGlyphs">0.75</text>
<line x1="42.00" y1="507.20" x2="45.50" y2="507.20" stroke="#222" stroke-width="1"/>
<text x="39.00" y="509.70" font-size="6.4" fill="#333" text-anchor="end" textLength="8.45" lengthAdjust="spacingAndGlyphs">0.5</text>
<line x1="42.00" y1="529.25" x2="45.50" y2="529.25" stroke="#222" stroke-width="1"/>
<text x="39.00" y="531.75" font-size="6.4" fill="#333" text-anchor="end" textLength="11.83" lengthAdjust="spacingAndGlyphs">0.25</text>
<line x1="42.00" y1="551.30" x2="45.50" y2="551.30" stroke="#222" stroke-width="1"/>
<text x="39.00" y="553.80" font-size="6.4" fill="#333" text-anchor="end" textLength="3.38" lengthAdjust="spacingAndGlyphs">0</text>
<line x1="71.00" y1="551.50" x2="71.00" y2="554.40" stroke="#222" stroke-width="1"/>
<line x1="113.50" y1="551.50" x2="113.50" y2="554.40" stroke="#222" stroke-width="1"/>
<line x1="71.00" y1="457.60" x2="113.50" y2="457.60" stroke="#444" stroke-width="1.5"/>
<text x="92" y="455" font-size="6.4" fill="#222" text-anchor="middle"><tspan font-style="italic">P</tspan> = 1.4×10<tspan font-size="4.2" dy="-2.5">−4</tspan></text>
<text x="20.50" y="507.00" font-size="6.7" fill="#222" text-anchor="middle" textLength="26.3" lengthAdjust="spacingAndGlyphs" transform="rotate(-90 20.50 507.00)" stroke="#222" stroke-width="0.2">Proportion</text>
<text x="70.70" y="563.00" font-size="6.4" fill="#333" text-anchor="middle" textLength="26.7" lengthAdjust="spacingAndGlyphs">Untreated</text>
<text x="70.70" y="570.30" font-size="6.4" fill="#333" text-anchor="middle" textLength="24.5" lengthAdjust="spacingAndGlyphs">(n = 489)</text>
<text x="113.40" y="563.00" font-size="6.4" fill="#333" text-anchor="middle" textLength="27.38" lengthAdjust="spacingAndGlyphs">Relapsed/</text>
<text x="113.40" y="570.30" font-size="6.4" fill="#333" text-anchor="middle" textLength="25.68" lengthAdjust="spacingAndGlyphs">refractory</text>
<text x="113.40" y="577.60" font-size="6.4" fill="#333" text-anchor="middle" textLength="24.05" lengthAdjust="spacingAndGlyphs">(n = 117)</text>
<rect x="45.50" y="587.90" width="5.80" height="5.80" fill="#bdbdc5"/>
<text x="54.30" y="593.00" font-size="6.4" fill="#333" textLength="88.19" lengthAdjust="spacingAndGlyphs"><tspan font-style="italic">KMT2D</tspan> wild-type/<tspan font-style="italic">TP53</tspan> wild-type</text>
<rect x="45.50" y="597.75" width="5.80" height="5.80" fill="#e2187f"/>
<text x="54.30" y="602.85" font-size="6.4" fill="#333" textLength="86.5" lengthAdjust="spacingAndGlyphs"><tspan font-style="italic">KMT2D</tspan>-mutated/<tspan font-style="italic">TP53</tspan> wild-type</text>
<rect x="45.50" y="607.60" width="5.80" height="5.80" fill="#f39200"/>
<text x="54.30" y="612.70" font-size="6.4" fill="#333" textLength="86.5" lengthAdjust="spacingAndGlyphs"><tspan font-style="italic">KMT2D</tspan> wild-type/<tspan font-style="italic">TP53</tspan>-mutated</text>
<rect x="45.50" y="617.45" width="5.80" height="5.80" fill="#c8102e"/>
<text x="54.30" y="622.55" font-size="6.4" fill="#333" textLength="84.82" lengthAdjust="spacingAndGlyphs"><tspan font-style="italic">KMT2D</tspan>-mutated/<tspan font-style="italic">TP53</tspan>-mutated</text>
<text x="157.60" y="452.60" font-size="11.2" fill="#111" font-weight="bold" stroke="#111" stroke-width="0.45">E</text>
<text x="253.30" y="461.80" font-size="6.4" fill="#333" text-anchor="middle" textLength="99.86" lengthAdjust="spacingAndGlyphs">Relapsed/refractory DLBCL (n = 117)</text>
<rect x="196.30" y="468.40" width="10.10" height="82.80" fill="#f09a80"/>
<rect x="207.89" y="504.28" width="10.10" height="46.92" fill="#f09a80"/>
<rect x="219.48" y="507.04" width="10.10" height="44.16" fill="#f2a088"/>
<rect x="231.07" y="509.80" width="10.10" height="41.40" fill="#f3a48b"/>
<rect x="242.66" y="509.80" width="10.10" height="41.40" fill="#e31a1c"/>
<rect x="254.25" y="515.32" width="10.10" height="35.88" fill="#ef8a6e"/>
<rect x="265.84" y="515.32" width="10.10" height="35.88" fill="#e1ddef"/>
<rect x="277.43" y="518.08" width="10.10" height="33.12" fill="#f09a80"/>
<rect x="289.02" y="518.08" width="10.10" height="33.12" fill="#dcd8ec"/>
<rect x="300.61" y="518.08" width="10.10" height="33.12" fill="#f5a88f"/>
<rect x="312.20" y="520.84" width="10.10" height="30.36" fill="#e8553a"/>
<rect x="323.79" y="520.84" width="10.10" height="30.36" fill="#e95a3e"/>
<rect x="335.38" y="520.84" width="10.10" height="30.36" fill="#f19077"/>
<rect x="346.97" y="520.84" width="10.10" height="30.36" fill="#ee7c5f"/>
<rect x="358.56" y="523.60" width="10.10" height="27.60" fill="#e0201b"/>
<rect x="370.15" y="523.60" width="10.10" height="27.60" fill="#b5a9d6"/>
<rect x="381.74" y="526.36" width="10.10" height="24.84" fill="#e31a1c"/>
<rect x="393.33" y="526.36" width="10.10" height="24.84" fill="#e5432c"/>
<rect x="404.92" y="526.36" width="10.10" height="24.84" fill="#fac6b2"/>
<rect x="416.51" y="529.12" width="10.10" height="22.08" fill="#fbcfbd"/>
<rect x="428.10" y="529.12" width="10.10" height="22.08" fill="#f09077"/>
<rect x="439.69" y="529.12" width="10.10" height="22.08" fill="#dcd8ed"/>
<rect x="451.28" y="529.12" width="10.10" height="22.08" fill="#ec6a4c"/>
<rect x="462.87" y="529.12" width="10.10" height="22.08" fill="#f5a98f"/>
<rect x="474.46" y="529.12" width="10.10" height="22.08" fill="#ee7d5f"/>
<line x1="193.50" y1="463.50" x2="193.50" y2="552.00" stroke="#222" stroke-width="1"/>
<line x1="193.00" y1="551.50" x2="487.70" y2="551.50" stroke="#222" stroke-width="1"/>
<line x1="190.80" y1="551.20" x2="193.50" y2="551.20" stroke="#222" stroke-width="1"/>
<text x="187.70" y="553.70" font-size="6.4" fill="#333" text-anchor="end" textLength="3.38" lengthAdjust="spacingAndGlyphs">0</text>
<line x1="190.80" y1="523.60" x2="193.50" y2="523.60" stroke="#222" stroke-width="1"/>
<text x="187.70" y="526.10" font-size="6.4" fill="#333" text-anchor="end" textLength="6.76" lengthAdjust="spacingAndGlyphs">10</text>
<line x1="190.80" y1="496.00" x2="193.50" y2="496.00" stroke="#222" stroke-width="1"/>
<text x="187.70" y="498.50" font-size="6.4" fill="#333" text-anchor="end" textLength="6.76" lengthAdjust="spacingAndGlyphs">20</text>
<line x1="190.80" y1="468.40" x2="193.50" y2="468.40" stroke="#222" stroke-width="1"/>
<text x="187.70" y="470.90" font-size="6.4" fill="#333" text-anchor="end" textLength="6.76" lengthAdjust="spacingAndGlyphs">30</text>
<line x1="201.35" y1="551.20" x2="201.35" y2="554.60" stroke="#222" stroke-width="0.9"/>
<text x="203.12" y="556.40" font-size="6.3" fill="#333" text-anchor="end" font-style="italic" transform="rotate(-90 203.12 556.40)">KMT2D – TP53</text>
<text x="203.32" y="635.50" font-size="6.3" fill="#3a3a3a" text-anchor="middle" textLength="10.65" lengthAdjust="spacingAndGlyphs" transform="rotate(-90 203.32 635.50)">A53</text>
<rect x="198.35" y="649.80" width="4.60" height="11.00" fill="#f4e6ea" stroke="#c08a98" stroke-width="0.6"/>
<text x="203.32" y="655.30" font-size="6.3" fill="#a8606e" text-anchor="middle" textLength="11.64" lengthAdjust="spacingAndGlyphs" transform="rotate(-90 203.32 655.30)">EZB</text>
<line x1="212.94" y1="551.20" x2="212.94" y2="554.60" stroke="#222" stroke-width="0.9"/>
<text x="214.71" y="556.40" font-size="6.3" fill="#333" text-anchor="end" font-style="italic" transform="rotate(-90 214.71 556.40)">TP53 – CREBBP</text>
<rect x="209.94" y="630.00" width="4.60" height="11.00" fill="#f4e6ea" stroke="#c08a98" stroke-width="0.6"/>
<text x="214.91" y="635.50" font-size="6.3" fill="#a8606e" text-anchor="middle" textLength="11.64" lengthAdjust="spacingAndGlyphs" transform="rotate(-90 214.91 635.50)">EZB</text>
<text x="214.91" y="655.30" font-size="6.3" fill="#3a3a3a" text-anchor="middle" textLength="10.65" lengthAdjust="spacingAndGlyphs" transform="rotate(-90 214.91 655.30)">A53</text>
<line x1="224.53" y1="551.20" x2="224.53" y2="554.60" stroke="#222" stroke-width="0.9"/>
<text x="226.30" y="556.40" font-size="6.3" fill="#333" text-anchor="end" font-style="italic" transform="rotate(-90 226.30 556.40)">KMT2D – CREBBP</text>
<rect x="221.53" y="630.00" width="4.60" height="11.00" fill="#f4e6ea" stroke="#c08a98" stroke-width="0.6"/>
<text x="226.50" y="635.50" font-size="6.3" fill="#a8606e" text-anchor="middle" textLength="11.64" lengthAdjust="spacingAndGlyphs" transform="rotate(-90 226.50 635.50)">EZB</text>
<rect x="221.53" y="649.80" width="4.60" height="11.00" fill="#f4e6ea" stroke="#c08a98" stroke-width="0.6"/>
<text x="226.50" y="655.30" font-size="6.3" fill="#a8606e" text-anchor="middle" textLength="11.64" lengthAdjust="spacingAndGlyphs" transform="rotate(-90 226.50 655.30)">EZB</text>
<line x1="236.12" y1="551.20" x2="236.12" y2="554.60" stroke="#222" stroke-width="0.9"/>
<text x="237.89" y="556.40" font-size="6.3" fill="#333" text-anchor="end" font-style="italic" transform="rotate(-90 237.89 556.40)">KMT2D – HIST1H1E</text>
<line x1="235.82" y1="629.30" x2="235.82" y2="641.70" stroke="#bdbdbd" stroke-width="0.8" stroke-dasharray="2.4 2.3"/>
<rect x="233.12" y="649.80" width="4.60" height="11.00" fill="#f4e6ea" stroke="#c08a98" stroke-width="0.6"/>
<text x="238.09" y="655.30" font-size="6.3" fill="#a8606e" text-anchor="middle" textLength="11.64" lengthAdjust="spacingAndGlyphs" transform="rotate(-90 238.09 655.30)">EZB</text>
<line x1="247.71" y1="551.20" x2="247.71" y2="554.60" stroke="#222" stroke-width="0.9"/>
<text x="249.48" y="556.40" font-size="6.3" fill="#333" text-anchor="end" font-style="italic" transform="rotate(-90 249.48 556.40)">TP53 – TNFRSF14</text>
<rect x="244.71" y="630.00" width="4.60" height="11.00" fill="#f4e6ea" stroke="#c08a98" stroke-width="0.6"/>
<text x="249.68" y="635.50" font-size="6.3" fill="#a8606e" text-anchor="middle" textLength="11.64" lengthAdjust="spacingAndGlyphs" transform="rotate(-90 249.68 635.50)">EZB</text>
<text x="249.68" y="655.30" font-size="6.3" fill="#3a3a3a" text-anchor="middle" textLength="10.65" lengthAdjust="spacingAndGlyphs" transform="rotate(-90 249.68 655.30)">A53</text>
<line x1="259.30" y1="551.20" x2="259.30" y2="554.60" stroke="#222" stroke-width="0.9"/>
<text x="261.07" y="556.40" font-size="6.3" fill="#333" text-anchor="end" font-style="italic" transform="rotate(-90 261.07 556.40)">TP53 – CARD11</text>
<line x1="259.00" y1="629.30" x2="259.00" y2="641.70" stroke="#bdbdbd" stroke-width="0.8" stroke-dasharray="2.4 2.3"/>
<text x="261.27" y="655.30" font-size="6.3" fill="#3a3a3a" text-anchor="middle" textLength="10.65" lengthAdjust="spacingAndGlyphs" transform="rotate(-90 261.27 655.30)">A53</text>
<line x1="270.89" y1="551.20" x2="270.89" y2="554.60" stroke="#222" stroke-width="0.9"/>
<text x="272.66" y="556.40" font-size="6.3" fill="#333" text-anchor="end" font-style="italic" transform="rotate(-90 272.66 556.40)">TP53 – IGLL5</text>
<line x1="270.59" y1="629.30" x2="270.59" y2="641.70" stroke="#bdbdbd" stroke-width="0.8" stroke-dasharray="2.4 2.3"/>
<text x="272.86" y="655.30" font-size="6.3" fill="#3a3a3a" text-anchor="middle" textLength="10.65" lengthAdjust="spacingAndGlyphs" transform="rotate(-90 272.86 655.30)">A53</text>
<line x1="282.48" y1="551.20" x2="282.48" y2="554.60" stroke="#222" stroke-width="0.9"/>
<text x="284.25" y="556.40" font-size="6.3" fill="#333" text-anchor="end" font-style="italic" transform="rotate(-90 284.25 556.40)">KMT2D – CARD11</text>
<line x1="282.18" y1="629.30" x2="282.18" y2="641.70" stroke="#bdbdbd" stroke-width="0.8" stroke-dasharray="2.4 2.3"/>
<rect x="279.48" y="649.80" width="4.60" height="11.00" fill="#f4e6ea" stroke="#c08a98" stroke-width="0.6"/>
<text x="284.45" y="655.30" font-size="6.3" fill="#a8606e" text-anchor="middle" textLength="11.64" lengthAdjust="spacingAndGlyphs" transform="rotate(-90 284.45 655.30)">EZB</text>
<line x1="294.07" y1="551.20" x2="294.07" y2="554.60" stroke="#222" stroke-width="0.9"/>
<text x="295.84" y="556.40" font-size="6.3" fill="#333" text-anchor="end" font-style="italic" transform="rotate(-90 295.84 556.40)">KMT2D – IGLL5</text>
<line x1="293.77" y1="629.30" x2="293.77" y2="641.70" stroke="#bdbdbd" stroke-width="0.8" stroke-dasharray="2.4 2.3"/>
<rect x="291.07" y="649.80" width="4.60" height="11.00" fill="#f4e6ea" stroke="#c08a98" stroke-width="0.6"/>
<text x="296.04" y="655.30" font-size="6.3" fill="#a8606e" text-anchor="middle" textLength="11.64" lengthAdjust="spacingAndGlyphs" transform="rotate(-90 296.04 655.30)">EZB</text>
<line x1="305.66" y1="551.20" x2="305.66" y2="554.60" stroke="#222" stroke-width="0.9"/>
<text x="307.43" y="556.40" font-size="6.3" fill="#333" text-anchor="end" font-style="italic" transform="rotate(-90 307.43 556.40)">TP53 – B2M</text>
<text x="307.63" y="635.50" font-size="6.3" fill="#3a3a3a" text-anchor="middle" textLength="10.65" lengthAdjust="spacingAndGlyphs" transform="rotate(-90 307.63 635.50)">A53</text>
<text x="307.63" y="655.30" font-size="6.3" fill="#3a3a3a" text-anchor="middle" textLength="10.65" lengthAdjust="spacingAndGlyphs" transform="rotate(-90 307.63 655.30)">A53</text>
<line x1="317.25" y1="551.20" x2="317.25" y2="554.60" stroke="#222" stroke-width="0.9"/>
<text x="319.02" y="556.40" font-size="6.3" fill="#333" text-anchor="end" font-style="italic" transform="rotate(-90 319.02 556.40)">KMT2D – EZH2</text>
<rect x="314.25" y="630.00" width="4.60" height="11.00" fill="#f4e6ea" stroke="#c08a98" stroke-width="0.6"/>
<text x="319.22" y="635.50" font-size="6.3" fill="#a8606e" text-anchor="middle" textLength="11.64" lengthAdjust="spacingAndGlyphs" transform="rotate(-90 319.22 635.50)">EZB</text>
<rect x="314.25" y="649.80" width="4.60" height="11.00" fill="#f4e6ea" stroke="#c08a98" stroke-width="0.6"/>
<text x="319.22" y="655.30" font-size="6.3" fill="#a8606e" text-anchor="middle" textLength="11.64" lengthAdjust="spacingAndGlyphs" transform="rotate(-90 319.22 655.30)">EZB</text>
<line x1="328.84" y1="551.20" x2="328.84" y2="554.60" stroke="#222" stroke-width="0.9"/>
<text x="330.61" y="556.40" font-size="6.3" fill="#333" text-anchor="end" font-style="italic" transform="rotate(-90 330.61 556.40)">KMT2D – GNA13</text>
<rect x="325.84" y="630.00" width="4.60" height="11.00" fill="#f4e6ea" stroke="#c08a98" stroke-width="0.6"/>
<text x="330.81" y="635.50" font-size="6.3" fill="#a8606e" text-anchor="middle" textLength="11.64" lengthAdjust="spacingAndGlyphs" transform="rotate(-90 330.81 635.50)">EZB</text>
<rect x="325.84" y="649.80" width="4.60" height="11.00" fill="#f4e6ea" stroke="#c08a98" stroke-width="0.6"/>
<text x="330.81" y="655.30" font-size="6.3" fill="#a8606e" text-anchor="middle" textLength="11.64" lengthAdjust="spacingAndGlyphs" transform="rotate(-90 330.81 655.30)">EZB</text>
<line x1="340.43" y1="551.20" x2="340.43" y2="554.60" stroke="#222" stroke-width="0.9"/>
<text x="342.20" y="556.40" font-size="6.3" fill="#333" text-anchor="end" font-style="italic" transform="rotate(-90 342.20 556.40)">KMT2D – TNFRSF14</text>
<rect x="337.43" y="630.00" width="4.60" height="11.00" fill="#f4e6ea" stroke="#c08a98" stroke-width="0.6"/>
<text x="342.40" y="635.50" font-size="6.3" fill="#a8606e" text-anchor="middle" textLength="11.64" lengthAdjust="spacingAndGlyphs" transform="rotate(-90 342.40 635.50)">EZB</text>
<rect x="337.43" y="649.80" width="4.60" height="11.00" fill="#f4e6ea" stroke="#c08a98" stroke-width="0.6"/>
<text x="342.40" y="655.30" font-size="6.3" fill="#a8606e" text-anchor="middle" textLength="11.64" lengthAdjust="spacingAndGlyphs" transform="rotate(-90 342.40 655.30)">EZB</text>
<line x1="352.02" y1="551.20" x2="352.02" y2="554.60" stroke="#222" stroke-width="0.9"/>
<text x="353.79" y="556.40" font-size="6.3" fill="#333" text-anchor="end" font-style="italic" transform="rotate(-90 353.79 556.40)">TP53 – EZH2</text>
<rect x="349.02" y="630.00" width="4.60" height="11.00" fill="#f4e6ea" stroke="#c08a98" stroke-width="0.6"/>
<text x="353.99" y="635.50" font-size="6.3" fill="#a8606e" text-anchor="middle" textLength="11.64" lengthAdjust="spacingAndGlyphs" transform="rotate(-90 353.99 635.50)">EZB</text>
<text x="353.99" y="655.30" font-size="6.3" fill="#3a3a3a" text-anchor="middle" textLength="10.65" lengthAdjust="spacingAndGlyphs" transform="rotate(-90 353.99 655.30)">A53</text>
<line x1="363.61" y1="551.20" x2="363.61" y2="554.60" stroke="#222" stroke-width="0.9"/>
<text x="365.38" y="556.40" font-size="6.3" fill="#333" text-anchor="end" font-style="italic" transform="rotate(-90 365.38 556.40)">TP53 – EP300</text>
<rect x="360.61" y="630.00" width="4.60" height="11.00" fill="#f4e6ea" stroke="#c08a98" stroke-width="0.6"/>
<text x="365.58" y="635.50" font-size="6.3" fill="#a8606e" text-anchor="middle" textLength="11.64" lengthAdjust="spacingAndGlyphs" transform="rotate(-90 365.58 635.50)">EZB</text>
<text x="365.58" y="655.30" font-size="6.3" fill="#3a3a3a" text-anchor="middle" textLength="10.65" lengthAdjust="spacingAndGlyphs" transform="rotate(-90 365.58 655.30)">A53</text>
<line x1="375.20" y1="551.20" x2="375.20" y2="554.60" stroke="#222" stroke-width="0.9"/>
<text x="376.97" y="556.40" font-size="6.3" fill="#333" text-anchor="end" font-style="italic" transform="rotate(-90 376.97 556.40)">TP53 – HIST1H1E</text>
<line x1="374.90" y1="629.30" x2="374.90" y2="641.70" stroke="#bdbdbd" stroke-width="0.8" stroke-dasharray="2.4 2.3"/>
<text x="377.17" y="655.30" font-size="6.3" fill="#3a3a3a" text-anchor="middle" textLength="10.65" lengthAdjust="spacingAndGlyphs" transform="rotate(-90 377.17 655.30)">A53</text>
<line x1="386.79" y1="551.20" x2="386.79" y2="554.60" stroke="#222" stroke-width="0.9"/>
<text x="388.56" y="556.40" font-size="6.3" fill="#333" text-anchor="end" font-style="italic" transform="rotate(-90 388.56 556.40)">CREBBP – TNFRSF14</text>
<rect x="383.79" y="630.00" width="4.60" height="11.00" fill="#f4e6ea" stroke="#c08a98" stroke-width="0.6"/>
<text x="388.76" y="635.50" font-size="6.3" fill="#a8606e" text-anchor="middle" textLength="11.64" lengthAdjust="spacingAndGlyphs" transform="rotate(-90 388.76 635.50)">EZB</text>
<rect x="383.79" y="649.80" width="4.60" height="11.00" fill="#f4e6ea" stroke="#c08a98" stroke-width="0.6"/>
<text x="388.76" y="655.30" font-size="6.3" fill="#a8606e" text-anchor="middle" textLength="11.64" lengthAdjust="spacingAndGlyphs" transform="rotate(-90 388.76 655.30)">EZB</text>
<line x1="398.38" y1="551.20" x2="398.38" y2="554.60" stroke="#222" stroke-width="0.9"/>
<text x="400.15" y="556.40" font-size="6.3" fill="#333" text-anchor="end" font-style="italic" transform="rotate(-90 400.15 556.40)">HIST1H1E – MYD88</text>
<text x="400.35" y="635.50" font-size="6.3" fill="#40408c" text-anchor="middle" textLength="13.63" lengthAdjust="spacingAndGlyphs" transform="rotate(-90 400.35 635.50)">MCD</text>
<line x1="398.08" y1="649.10" x2="398.08" y2="661.50" stroke="#bdbdbd" stroke-width="0.8" stroke-dasharray="2.4 2.3"/>
<line x1="409.97" y1="551.20" x2="409.97" y2="554.60" stroke="#222" stroke-width="0.9"/>
<text x="411.74" y="556.40" font-size="6.3" fill="#333" text-anchor="end" font-style="italic" transform="rotate(-90 411.74 556.40)">TP53 – GNA13</text>
<rect x="406.97" y="630.00" width="4.60" height="11.00" fill="#f4e6ea" stroke="#c08a98" stroke-width="0.6"/>
<text x="411.94" y="635.50" font-size="6.3" fill="#a8606e" text-anchor="middle" textLength="11.64" lengthAdjust="spacingAndGlyphs" transform="rotate(-90 411.94 635.50)">EZB</text>
<text x="411.94" y="655.30" font-size="6.3" fill="#3a3a3a" text-anchor="middle" textLength="10.65" lengthAdjust="spacingAndGlyphs" transform="rotate(-90 411.94 655.30)">A53</text>
<line x1="421.56" y1="551.20" x2="421.56" y2="554.60" stroke="#222" stroke-width="0.9"/>
<text x="423.33" y="556.40" font-size="6.3" fill="#333" text-anchor="end" font-style="italic" transform="rotate(-90 423.33 556.40)">IGLL5 – HIST1H1E</text>
<line x1="421.26" y1="629.30" x2="421.26" y2="641.70" stroke="#bdbdbd" stroke-width="0.8" stroke-dasharray="2.4 2.3"/>
<line x1="421.26" y1="649.10" x2="421.26" y2="661.50" stroke="#bdbdbd" stroke-width="0.8" stroke-dasharray="2.4 2.3"/>
<line x1="433.15" y1="551.20" x2="433.15" y2="554.60" stroke="#222" stroke-width="0.9"/>
<text x="434.92" y="556.40" font-size="6.3" fill="#333" text-anchor="end" font-style="italic" transform="rotate(-90 434.92 556.40)">IGLL5 – MYD88</text>
<text x="435.12" y="635.50" font-size="6.3" fill="#40408c" text-anchor="middle" textLength="13.63" lengthAdjust="spacingAndGlyphs" transform="rotate(-90 435.12 635.50)">MCD</text>
<line x1="432.85" y1="649.10" x2="432.85" y2="661.50" stroke="#bdbdbd" stroke-width="0.8" stroke-dasharray="2.4 2.3"/>
<line x1="444.74" y1="551.20" x2="444.74" y2="554.60" stroke="#222" stroke-width="0.9"/>
<text x="446.51" y="556.40" font-size="6.3" fill="#333" text-anchor="end" font-style="italic" transform="rotate(-90 446.51 556.40)">KMT2D – B2M</text>
<text x="446.71" y="635.50" font-size="6.3" fill="#3a3a3a" text-anchor="middle" textLength="10.65" lengthAdjust="spacingAndGlyphs" transform="rotate(-90 446.71 635.50)">A53</text>
<rect x="441.74" y="649.80" width="4.60" height="11.00" fill="#f4e6ea" stroke="#c08a98" stroke-width="0.6"/>
<text x="446.71" y="655.30" font-size="6.3" fill="#a8606e" text-anchor="middle" textLength="11.64" lengthAdjust="spacingAndGlyphs" transform="rotate(-90 446.71 655.30)">EZB</text>
<line x1="456.33" y1="551.20" x2="456.33" y2="554.60" stroke="#222" stroke-width="0.9"/>
<text x="458.10" y="556.40" font-size="6.3" fill="#333" text-anchor="end" font-style="italic" transform="rotate(-90 458.10 556.40)">KMT2D – EP300</text>
<rect x="453.33" y="630.00" width="4.60" height="11.00" fill="#f4e6ea" stroke="#c08a98" stroke-width="0.6"/>
<text x="458.30" y="635.50" font-size="6.3" fill="#a8606e" text-anchor="middle" textLength="11.64" lengthAdjust="spacingAndGlyphs" transform="rotate(-90 458.30 635.50)">EZB</text>
<rect x="453.33" y="649.80" width="4.60" height="11.00" fill="#f4e6ea" stroke="#c08a98" stroke-width="0.6"/>
<text x="458.30" y="655.30" font-size="6.3" fill="#a8606e" text-anchor="middle" textLength="11.64" lengthAdjust="spacingAndGlyphs" transform="rotate(-90 458.30 655.30)">EZB</text>
<line x1="467.92" y1="551.20" x2="467.92" y2="554.60" stroke="#222" stroke-width="0.9"/>
<text x="469.69" y="556.40" font-size="6.3" fill="#333" text-anchor="end" font-style="italic" transform="rotate(-90 469.69 556.40)">KMT2D – NFKBIE</text>
<line x1="467.62" y1="629.30" x2="467.62" y2="641.70" stroke="#bdbdbd" stroke-width="0.8" stroke-dasharray="2.4 2.3"/>
<rect x="464.92" y="649.80" width="4.60" height="11.00" fill="#f4e6ea" stroke="#c08a98" stroke-width="0.6"/>
<text x="469.89" y="655.30" font-size="6.3" fill="#a8606e" text-anchor="middle" textLength="11.64" lengthAdjust="spacingAndGlyphs" transform="rotate(-90 469.89 655.30)">EZB</text>
<line x1="479.51" y1="551.20" x2="479.51" y2="554.60" stroke="#222" stroke-width="0.9"/>
<text x="481.28" y="556.40" font-size="6.3" fill="#333" text-anchor="end" font-style="italic" transform="rotate(-90 481.28 556.40)">TP53 – TET2</text>
<text x="481.48" y="635.50" font-size="6.3" fill="#d0483a" text-anchor="middle" textLength="10.98" lengthAdjust="spacingAndGlyphs" transform="rotate(-90 481.48 635.50)">ST2</text>
<text x="481.48" y="655.30" font-size="6.3" fill="#3a3a3a" text-anchor="middle" textLength="10.65" lengthAdjust="spacingAndGlyphs" transform="rotate(-90 481.48 655.30)">A53</text>
<text x="175.40" y="581.80" font-size="6.3" fill="#333" text-anchor="middle" textLength="39.6" lengthAdjust="spacingAndGlyphs" transform="rotate(-90 175.40 581.80)">Mutated genes</text>
<text x="175.40" y="645.50" font-size="6.3" fill="#333" text-anchor="middle" textLength="43.25" lengthAdjust="spacingAndGlyphs" transform="rotate(-90 175.40 645.50)">Genetic subtype</text>
<text x="175.00" y="509.80" font-size="6.7" fill="#222" text-anchor="middle" textLength="81.5" lengthAdjust="spacingAndGlyphs" transform="rotate(-90 175.00 509.80)" stroke="#222" stroke-width="0.2">Number of co-occurring samples</text>
<defs><linearGradient id="gE" x1="0" y1="0" x2="0" y2="1"><stop offset="0" stop-color="#d42a1c"/><stop offset="0.17" stop-color="#e4503a"/><stop offset="0.37" stop-color="#f08c70"/><stop offset="0.56" stop-color="#f9c6b2"/><stop offset="0.75" stop-color="#fdfbfc"/><stop offset="0.94" stop-color="#cdc6e6"/><stop offset="1" stop-color="#c4bce0"/></linearGradient></defs>
<rect x="464.30" y="469.60" width="6.60" height="35.40" fill="url(#gE)"/>
<text x="473.30" y="472.80" font-size="6.4" fill="#444" textLength="8.45" lengthAdjust="spacingAndGlyphs">2.0</text>
<text x="473.30" y="479.36" font-size="6.4" fill="#444" textLength="8.45" lengthAdjust="spacingAndGlyphs">1.5</text>
<text x="473.30" y="485.92" font-size="6.4" fill="#444" textLength="8.45" lengthAdjust="spacingAndGlyphs">1.0</text>
<text x="473.30" y="492.48" font-size="6.4" fill="#444" textLength="8.45" lengthAdjust="spacingAndGlyphs">0.5</text>
<text x="473.30" y="499.04" font-size="6.4" fill="#444" textLength="3.38" lengthAdjust="spacingAndGlyphs">0</text>
<text x="473.30" y="505.60" font-size="6.4" fill="#444" textLength="12.0" lengthAdjust="spacingAndGlyphs">−0.5</text>
<text x="460.00" y="461.80" font-size="6.1" fill="#222">log<tspan font-size="4" dy="1.5">2</tspan><tspan dy="-1.5">(odds ratio)</tspan></text>
<rect x="0.5" y="0.5" width="519" height="673" fill="none" stroke="#555" stroke-width="1"/>
</svg>
</body></html>
